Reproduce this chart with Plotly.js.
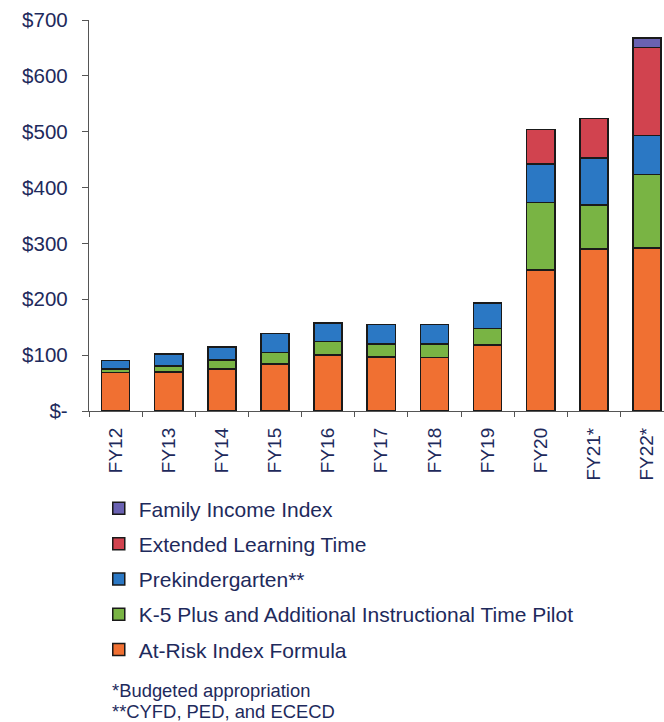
<!DOCTYPE html>
<html>
<head>
<meta charset="utf-8">
<script src="https://cdn.plot.ly/plotly-3.0.1.min.js"></script>
<style>
html, body { margin: 0; padding: 0; background: #fff; }
#chart { width: 664px; height: 722px; }
</style>
</head>
<body>
<div id="chart"></div>
<script>
const categories = ["FY12", "FY13", "FY14", "FY15", "FY16", "FY17", "FY18", "FY19", "FY20", "FY21*", "FY22*"];
const atRisk      = [69, 70, 75, 84, 100, 97, 96, 118, 252, 290, 292];
const k5Plus      = [6, 11, 16, 21, 24, 23, 24, 30, 121, 79, 131];
const preK        = [15, 21, 24, 34, 34, 35, 35, 45, 69, 84, 70];
const extLearning = [0, 0, 0, 0, 0, 0, 0, 0, 62, 71, 158];
const familyIncome = [0, 0, 0, 0, 0, 0, 0, 0, 0, 0, 17];
const seriesNames = ["At-Risk Index Formula", "K-5 Plus and Additional Instructional Time Pilot", "Prekindergarten**", "Extended Learning Time", "Family Income Index"];
const yTickVals = [0, 100, 200, 300, 400, 500, 600, 700];
const yTickText = ["$-", "$100", "$200", "$300", "$400", "$500", "$600", "$700"];
const footnotes = ["*Budgeted appropriation", "**CYFD, PED, and ECECD"];

const colors = ["#F07032", "#79B444", "#2B78C4", "#D1434F", "#6A62B2"];
const seriesData = [atRisk, k5Plus, preK, extLearning, familyIncome];
const textColor = "#1E2A5C";
const fontFam = "Liberation Sans, Arial, sans-serif";

const traces = seriesData.map((vals, i) => ({
  type: "bar",
  name: seriesNames[i],
  x: categories,
  y: vals,
  width: 0.53,
  legendgroup: "g" + i,
  legendrank: 1000 - i,
  marker: { color: colors[i], line: { color: "#1a1a1a", width: 1.5 } },
  hoverinfo: "x+y+name"
}));

const layout = {
  width: 664,
  height: 722,
  margin: { l: 89, r: 0, t: 20, b: 311 },
  barmode: "stack",
  paper_bgcolor: "#ffffff",
  plot_bgcolor: "#ffffff",
  font: { family: fontFam, color: textColor },
  showlegend: true,
  legend: {
    orientation: "v",
    traceorder: "grouped",
    tracegroupgap: 5,
    x: 0.017, xanchor: "left",
    y: -0.1975, yanchor: "top",
    font: { size: 21, color: textColor, family: fontFam },
    bgcolor: "rgba(0,0,0,0)"
  },
  xaxis: {
    type: "category",
    range: [-0.5, 10.32],
    tickangle: -90,
    ticks: "outside",
    ticklen: 5,
    tickcolor: "#555",
    tickson: "boundaries",
    showline: true,
    linecolor: "#555",
    linewidth: 1.2,
    showgrid: false,
    zeroline: false,
    tickfont: { size: 19, color: textColor, family: fontFam },
    ticklabelstandoff: 8
  },
  yaxis: {
    range: [0, 700],
    tickvals: yTickVals,
    ticktext: yTickText,
    ticks: "outside",
    ticklen: 6,
    tickcolor: "#555",
    showline: true,
    linecolor: "#555",
    linewidth: 1.2,
    showgrid: false,
    zeroline: false,
    tickfont: { size: 20.5, color: textColor, family: fontFam },
    ticklabelstandoff: 10
  },
  annotations: footnotes.map((t, i) => ({
    text: t,
    xref: "paper", yref: "paper",
    x: (110 - 89) / 575, xanchor: "left",
    y: (411 - (690 + i * 21)) / 391, yanchor: "middle",
    showarrow: false,
    font: { size: 18.4, color: textColor, family: fontFam }
  }))
};

Plotly.newPlot("chart", traces, layout, { displayModeBar: false, staticPlot: true });
</script>
</body>
</html>
